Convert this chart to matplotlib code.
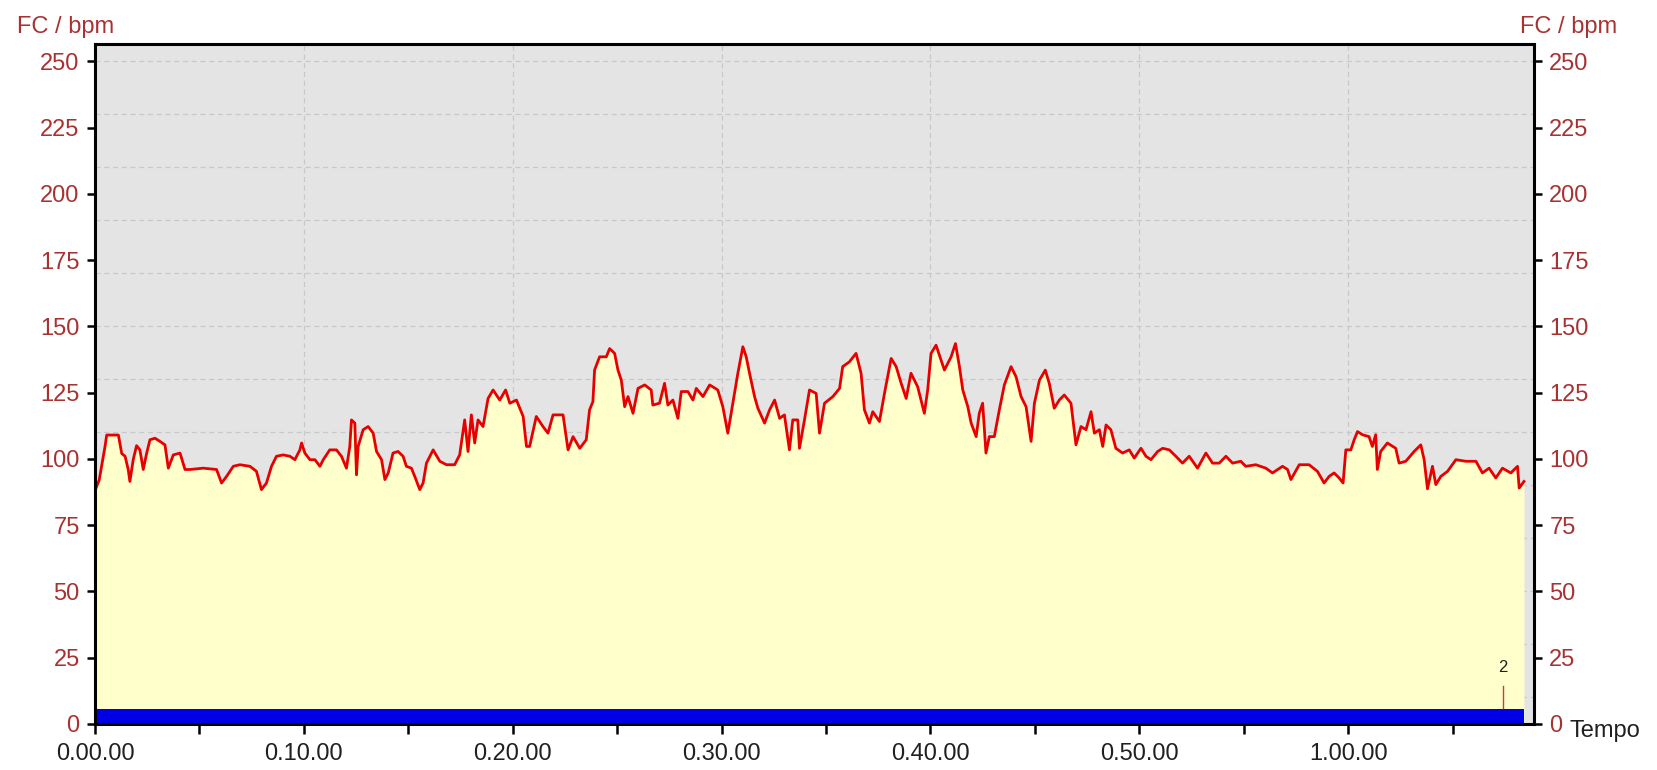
import matplotlib
matplotlib.use("Agg")
import matplotlib.pyplot as plt
from matplotlib.ticker import MultipleLocator, FuncFormatter

# ---------------- data ----------------
time_min = [0.0, 0.08, 0.2, 0.48, 0.56, 1.12, 1.28, 1.44, 1.59, 1.67, 1.83, 1.99, 2.15, 2.31,
            2.47, 2.63, 2.87, 3.11, 3.35, 3.51, 3.75, 4.07, 4.31, 4.55, 5.18, 5.82, 6.06, 6.3,
            6.62, 6.94, 7.42, 7.73, 7.97, 8.21, 8.45, 8.69, 9.01, 9.33, 9.57, 9.81, 9.89, 10.05,
            10.29, 10.53, 10.77, 10.93, 11.24, 11.56, 11.8, 12.04, 12.2, 12.28, 12.44, 12.52,
            12.6, 12.84, 13.08, 13.32, 13.48, 13.72, 13.88, 14.04, 14.27, 14.51, 14.75, 14.91,
            15.15, 15.31, 15.55, 15.71, 15.87, 16.19, 16.51, 16.83, 17.22, 17.46, 17.7, 17.86,
            18.02, 18.18, 18.34, 18.58, 18.82, 19.06, 19.38, 19.66, 19.86, 20.18, 20.5, 20.66,
            20.81, 21.13, 21.45, 21.69, 21.93, 22.41, 22.65, 22.89, 23.21, 23.52, 23.68, 23.84,
            23.92, 24.16, 24.48, 24.64, 24.88, 25.04, 25.2, 25.36, 25.52, 25.76, 26.0, 26.32,
            26.63, 26.71, 27.03, 27.27, 27.43, 27.67, 27.91, 28.07, 28.39, 28.63, 28.79, 29.11,
            29.43, 29.82, 30.06, 30.3, 30.54, 30.78, 31.02, 31.18, 31.34, 31.58, 31.74, 32.06,
            32.3, 32.54, 32.78, 33.01, 33.25, 33.41, 33.65, 33.73, 33.97, 34.21, 34.53, 34.69,
            34.93, 35.33, 35.65, 35.8, 36.12, 36.44, 36.68, 36.84, 37.08, 37.24, 37.56, 37.8,
            38.12, 38.36, 38.6, 38.84, 39.07, 39.39, 39.71, 39.87, 40.03, 40.27, 40.67, 40.99,
            41.2, 41.39, 41.55, 41.79, 41.95, 42.19, 42.34, 42.5, 42.66, 42.82, 43.06, 43.3,
            43.54, 43.86, 44.1, 44.34, 44.58, 44.82, 44.98, 45.22, 45.5, 45.69, 45.93, 46.17,
            46.41, 46.73, 46.97, 47.21, 47.45, 47.69, 47.85, 48.09, 48.25, 48.41, 48.64, 48.88,
            49.2, 49.52, 49.76, 50.08, 50.32, 50.56, 50.88, 51.12, 51.44, 51.75, 52.07, 52.39,
            52.79, 53.19, 53.51, 53.83, 54.15, 54.47, 54.86, 55.1, 55.58, 56.06, 56.38, 56.86,
            57.1, 57.26, 57.66, 58.13, 58.53, 58.85, 59.09, 59.33, 59.57, 59.76, 59.89, 60.13,
            60.29, 60.45, 60.69, 61.0, 61.16, 61.32, 61.4, 61.56, 61.88, 62.28, 62.44, 62.76,
            63.16, 63.48, 63.64, 63.8, 64.04, 64.2, 64.44, 64.76, 65.16, 65.64, 66.12, 66.43,
            66.75, 67.07, 67.39, 67.79, 68.11, 68.19, 68.42]
hr_bpm = [88.0, 89.6, 92.0, 104.7, 109.0, 109.0, 102.0, 101.0, 96.0, 91.5, 99.7, 105.0, 103.4, 96.0,
          102.0, 107.2, 107.8, 106.6, 105.3, 96.5, 101.5, 102.2, 96.0, 96.0, 96.5, 96.0, 90.9, 93.4,
          97.2, 97.8, 97.2, 95.3, 88.4, 90.9, 97.2, 101.0, 101.5, 101.0, 99.7, 103.4, 106.0, 102.2,
          99.7, 99.7, 97.2, 99.7, 103.4, 103.4, 101.0, 96.5, 104.7, 114.7, 113.5, 94.0,
          104.7, 111.0, 112.2, 109.7, 102.8, 99.7, 92.2, 94.7, 102.2, 102.8, 101.0, 97.2,
          96.5, 93.4, 88.4, 90.9, 98.4, 103.4, 99.1, 97.8, 97.8, 101.5, 114.7, 102.8,
          116.6, 106.0, 114.7, 112.2, 122.8, 126.0, 122.2, 126.0, 121.0, 122.2, 116.0, 104.7,
          104.7, 116.0, 112.2, 109.7, 116.6, 116.6, 103.4, 108.4, 104.0, 107.2, 118.5, 121.6,
          133.5, 138.5, 138.5, 141.6, 139.8, 133.5, 129.7, 119.7, 123.5, 117.2, 126.6, 127.9,
          126.0, 120.3, 121.0, 128.5, 120.3, 122.2, 115.3, 125.4, 125.4, 122.2, 126.6, 123.5,
          127.9, 126.0, 119.7, 109.7, 121.0, 132.3, 142.3, 138.5, 132.3, 123.5, 119.1, 113.5,
          118.5, 122.2, 115.3, 116.6, 103.4, 114.7, 114.7, 104.0, 114.7, 126.0, 124.7, 109.7,
          121.0, 123.5, 126.6, 134.8, 136.6, 139.8, 132.3, 118.5, 113.5, 117.8, 114.1, 124.7,
          137.9, 134.8, 128.5, 122.8, 132.3, 127.2, 117.2, 126.0, 139.8, 142.9, 133.5, 138.5,
          143.5, 134.8, 126.0, 119.7, 113.5, 108.4, 117.2, 121.0, 102.2, 108.4, 108.4, 118.5,
          127.9, 134.8, 131.0, 123.5, 119.7, 106.6, 121.0, 129.7, 133.5, 128.5, 119.1, 122.2,
          124.1, 121.0, 105.3, 112.2, 111.0, 117.8, 109.7, 111.0, 104.7, 112.8, 111.0, 104.0,
          102.2, 103.4, 100.3, 104.0, 101.0, 99.7, 102.8, 104.0, 103.4, 101.0, 98.4, 101.0,
          96.5, 102.2, 98.4, 98.4, 101.0, 98.4, 99.1, 97.2, 97.8, 96.5, 94.7, 97.2,
          96.0, 92.2, 97.8, 97.8, 95.3, 90.9, 93.4, 94.7, 92.8, 90.9, 103.4, 103.4,
          107.2, 110.3, 109.1, 108.4, 104.7, 109.1, 96.0, 102.8, 106.0, 104.0, 98.4, 99.1,
          102.8, 105.3, 99.7, 88.7, 97.2, 90.3, 93.4, 95.3, 99.7, 99.1, 99.1, 94.7,
          96.5, 92.8, 96.5, 94.7, 97.2, 89.0, 91.5]

lap_time = 67.4
lap_label = "2"
y_ticks = list(range(0, 251, 25))
x_major = list(range(0, 61, 10))

def fmt_time(m, pos=None):
    m = int(round(m))
    return f"{m // 60}.{m % 60:02d}.00"

# ---------------- figure ----------------
plt.rcParams['font.family'] = ['Liberation Sans', 'DejaVu Sans']
FS = 17
fig = plt.figure(figsize=(16.57, 7.70), dpi=100)
ax = fig.add_axes([95 / 1657, 46 / 770, (1534 - 95) / 1657, (724 - 44) / 770])
ax.set_facecolor('#e4e4e4')

ax.set_xlim(0, 68.9)
ax.set_ylim(0, 256.5)

# grid: horizontal every 20 bpm from 250 down, vertical each 10 min
for g in range(250, 0, -20):
    ax.axhline(g, color='#c8c8c8', lw=0.9, ls=(0, (4, 3)), zorder=0.5)
for g in x_major[1:]:
    ax.axvline(g, color='#c8c8c8', lw=0.9, ls=(0, (4, 3)), zorder=0.5)

ax.fill_between(time_min, 0, hr_bpm, color='#ffffcc', lw=0, zorder=1)
ax.plot(time_min, hr_bpm, color='#e80000', lw=2.0, zorder=2)

# blue activity bar
ax.fill_between([time_min[0], time_min[-1]], 0, 5.7, color='#0000e6', lw=0, zorder=3)

# lap marker
ax.plot([lap_time, lap_time], [6.2, 14.5], color='#d04020', lw=1.0, zorder=4)
ax.text(lap_time, 18.5, lap_label, ha='center', va='bottom', fontsize=12, color='#202020', zorder=4)

tick_red = '#a83232'
ax.set_yticks(y_ticks)
ax.yaxis.set_major_formatter(FuncFormatter(lambda v, p: f"{int(v)}"))
ax.tick_params(axis='y', which='both', left=True, right=True, labelleft=True, labelright=True,
               direction='out', length=6, width=1.8, colors='black', labelcolor=tick_red,
               labelsize=FS, pad=5)
ax.set_xticks(x_major)
ax.xaxis.set_minor_locator(MultipleLocator(5))
ax.xaxis.set_major_formatter(FuncFormatter(fmt_time))
ax.tick_params(axis='x', which='both', direction='out', length=7, width=1.8, colors='black',
               labelcolor='#202020', labelsize=FS, pad=7)

for s in ax.spines.values():
    s.set_linewidth(2.2)
    s.set_color('black')
    s.set_zorder(5)

fig.text(17 / 1657, 1 - 33 / 770, "FC / bpm", color=tick_red, fontsize=FS, ha='left', va='baseline')
fig.text(1617 / 1657, 1 - 33 / 770, "FC / bpm", color=tick_red, fontsize=FS, ha='right', va='baseline')
fig.text(1569 / 1657, 1 - 731 / 770, "Tempo", color='#202020', fontsize=FS, ha='left', va='center')

fig.savefig('out.png', dpi=100, facecolor='white')
